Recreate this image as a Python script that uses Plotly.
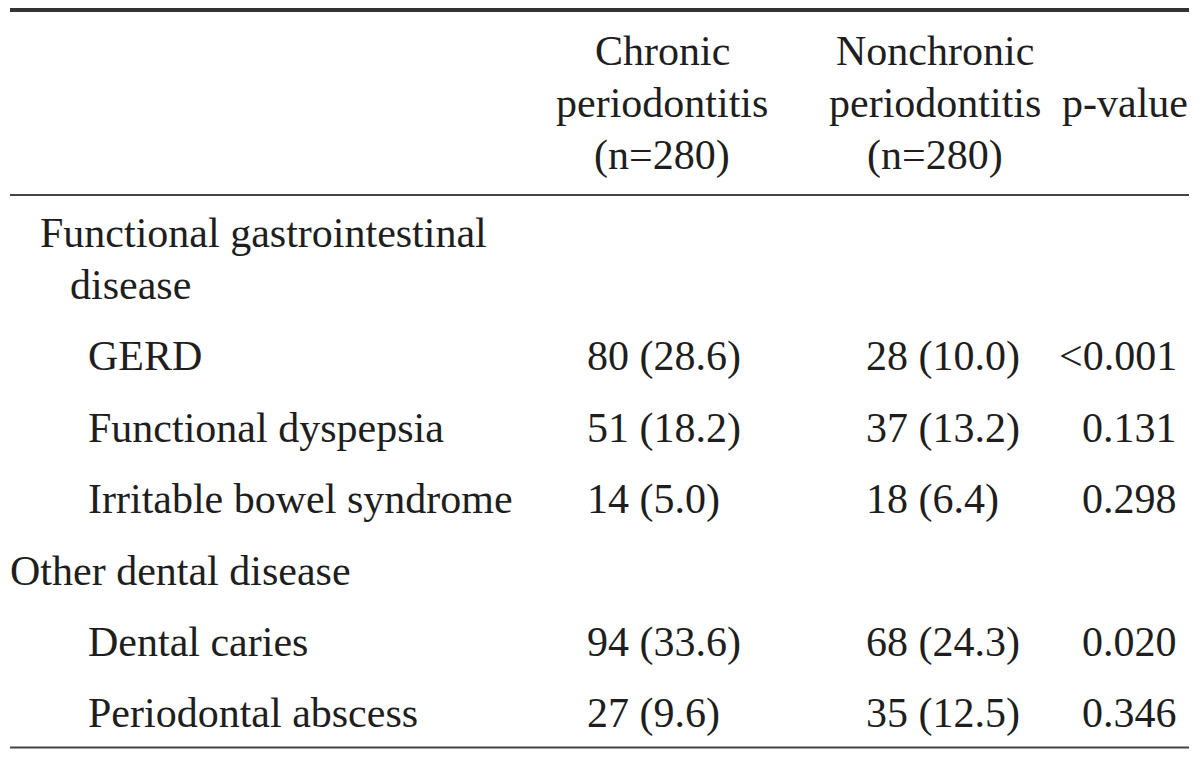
import plotly.graph_objects as go

# ---- data ----
header_chronic = ["Chronic", "periodontitis", "(n=280)"]
header_nonchronic = ["Nonchronic", "periodontitis", "(n=280)"]
header_p = "p-value"

row_labels = ["Functional gastrointestinal", "disease", "GERD", "Functional dyspepsia",
              "Irritable bowel syndrome", "Other dental disease", "Dental caries",
              "Periodontal abscess"]
row_indent = [38, 68, 86, 86, 86, 8, 86, 86]
chronic_vals = ["", "", "80 (28.6)", "51 (18.2)", "14 (5.0)", "", "94 (33.6)", "27 (9.6)"]
nonchronic_vals = ["", "", "28 (10.0)", "37 (13.2)", "18 (6.4)", "", "68 (24.3)", "35 (12.5)"]
p_vals = ["", "", "<0.001", "0.131", "0.298", "", "0.020", "0.346"]

# ---- layout geometry (page pixels; page body has an 8px margin) ----
OFF = 8
W, H = 1200 - 2 * OFF, 757 - 2 * OFF
row_y = [233, 285, 356, 428, 499, 571, 642, 713]
head_y = [51, 103, 155]
x_chronic_left = 585
x_nonchronic_left = 864
x_p_right = 1179
chronic_head_x = 662
nonchronic_head_x = 935

FONT = dict(family="Liberation Serif, Times New Roman, serif", size=42, color="#1e1e1e")

fig = go.Figure()
fig.add_trace(go.Scatter(x=[OFF, OFF + W], y=[OFF, OFF + H], mode="markers",
                         marker=dict(opacity=0), hoverinfo="skip", showlegend=False))

ann = []
for txt, y in zip(header_chronic, head_y):
    ann.append(dict(x=chronic_head_x, y=y, text=txt, xanchor="center"))
for txt, y in zip(header_nonchronic, head_y):
    ann.append(dict(x=nonchronic_head_x, y=y, text=txt, xanchor="center"))
ann.append(dict(x=1190, y=head_y[1], text=header_p, xanchor="right"))

for lab, ind, y, c, n, p in zip(row_labels, row_indent, row_y, chronic_vals, nonchronic_vals, p_vals):
    ann.append(dict(x=ind, y=y, text=lab, xanchor="left"))
    if c:
        ann.append(dict(x=x_chronic_left, y=y, text=c, xanchor="left"))
    if n:
        ann.append(dict(x=x_nonchronic_left, y=y, text=n, xanchor="left"))
    if p:
        ann.append(dict(x=x_p_right, y=y, text=p, xanchor="right"))

for a in ann:
    a.update(xref="x", yref="y", yanchor="middle", showarrow=False, font=FONT)

shapes = [
    dict(type="line", xref="x", yref="y", x0=10, x1=1189, y0=10, y1=10,
         line=dict(color="#333333", width=4)),
    dict(type="line", xref="x", yref="y", x0=10, x1=1189, y0=195, y1=195,
         line=dict(color="#444444", width=2)),
    dict(type="line", xref="x", yref="y", x0=10, x1=1189, y0=747.5, y1=747.5,
         line=dict(color="#444444", width=2)),
]

fig.update_layout(
    width=W, height=H, margin=dict(l=0, r=0, t=0, b=0),
    paper_bgcolor="white", plot_bgcolor="white",
    xaxis=dict(range=[OFF, OFF + W], visible=False, fixedrange=True),
    yaxis=dict(range=[OFF + H, OFF], visible=False, fixedrange=True),
    annotations=ann, shapes=shapes,
)
fig.write_html("out.html")
